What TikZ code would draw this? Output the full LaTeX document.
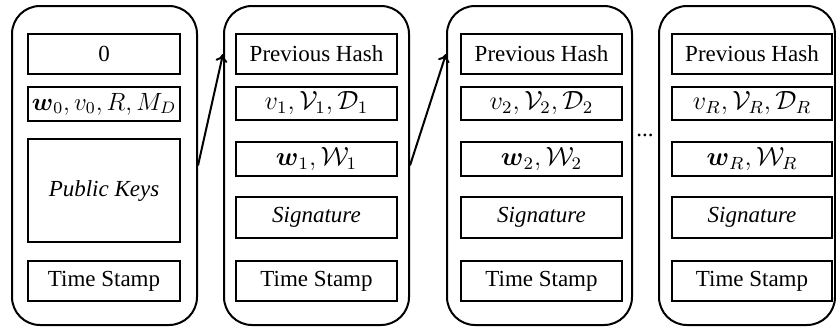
\documentclass[tikz,border=0pt]{standalone}
\usepackage{amsmath,amssymb}
\usepackage{graphicx}
\usepackage{fontspec}
\setmainfont{Liberation Serif}
\usepackage{tikz}
\usetikzlibrary{arrows.meta, positioning}

\newcommand{\fieldmath}[2][1.1]{\scalebox{#1}{$#2$}}

\begin{document}
\begin{tikzpicture}[
    x=0.5pt, y=0.5pt,
    block/.style={draw, line width=1pt, rounded corners=14pt, minimum height=159.5pt},
    field/.style={draw, line width=0.6pt, inner sep=1pt, font=\fontsize{11.5}{13}\selectfont},
    arrow/.style={-{To[length=4pt, width=6pt]}, line width=1pt},
]
\useasboundingbox (0,0) rectangle (836,-327);

% Chain of blocks
\node[block, minimum width=92.5pt] (blk0) at (104.5,-165.5) {};
\node[block, minimum width=92.5pt] (blk1) at (316.5,-165.5) {};
\node[block, minimum width=92.5pt] (blk2) at (539.5,-165.5) {};
\node[block, minimum width=88pt] (blkR) at (747,-165.5) {};

% Genesis block
\node[field, minimum width=76pt, minimum height=20pt] (zero) at (104,-54) {0};
\node[field, minimum width=76pt, minimum height=17pt] (init) at (104,-104) {\fieldmath[1.04]{\boldsymbol{w}_0, v_0, R, M_D}};
\node[field, minimum width=76pt, minimum height=51.5pt] (keys) at (104,-190.5) {\itshape Public Keys};
\node[field, minimum width=76pt, minimum height=20pt] (ts0) at (104,-281) {Time Stamp};

% Block 1
\node[field, minimum width=80.5pt, minimum height=20pt] (hash1) at (316.5,-54) {Previous Hash};
\node[field, minimum width=80.5pt, minimum height=16.5pt] (val1) at (316.5,-103.5) {\fieldmath{v_1, \mathcal{V}_1, \mathcal{D}_1}};
\node[field, minimum width=80.5pt, minimum height=17pt] (wgt1) at (316.5,-159) {\fieldmath{\boldsymbol{w}_1, \mathcal{W}_1}};
\node[field, minimum width=80.5pt, minimum height=20.5pt] (sig1) at (316.5,-217.5) {\itshape Signature};
\node[field, minimum width=80.5pt, minimum height=20pt] (ts1) at (316.5,-281) {Time Stamp};

% Block 2
\node[field, minimum width=80.5pt, minimum height=20pt] (hash2) at (541.5,-54) {Previous Hash};
\node[field, minimum width=80.5pt, minimum height=16.5pt] (val2) at (541.5,-103.5) {\fieldmath{v_2, \mathcal{V}_2, \mathcal{D}_2}};
\node[field, minimum width=80.5pt, minimum height=17pt] (wgt2) at (541.5,-159) {\fieldmath{\boldsymbol{w}_2, \mathcal{W}_2}};
\node[field, minimum width=80.5pt, minimum height=20.5pt] (sig2) at (541.5,-217.5) {\itshape Signature};
\node[field, minimum width=80.5pt, minimum height=20pt] (ts2) at (541.5,-281) {Time Stamp};

% Last block
\node[field, minimum width=80pt, minimum height=20pt] (hashR) at (752,-54) {Previous Hash};
\node[field, minimum width=80pt, minimum height=16.5pt] (valR) at (752,-103.5) {\fieldmath{v_R, \mathcal{V}_R, \mathcal{D}_R}};
\node[field, minimum width=80pt, minimum height=17pt] (wgtR) at (752,-159) {\fieldmath{\boldsymbol{w}_R, \mathcal{W}_R}};
\node[field, minimum width=80pt, minimum height=20.5pt] (sigR) at (752,-217.5) {\itshape Signature};
\node[field, minimum width=80pt, minimum height=20pt] (tsR) at (752,-281) {Time Stamp};

\node[font=\fontsize{11.5}{13}\selectfont, inner sep=0pt] (dots) at (645,-135) {...};

% Links
\draw[arrow] (blk0.east) -- (blk1.west |- hash1);
\draw[arrow] (blk1.east) -- (blk2.west |- hash2);

\end{tikzpicture}
\end{document}
